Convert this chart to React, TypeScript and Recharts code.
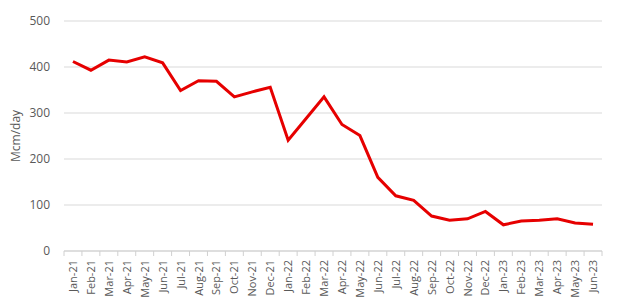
import React from 'react';
import { LineChart, Line, XAxis, YAxis, CartesianGrid } from 'recharts';

const months = ['Jan-21','Feb-21','Mar-21','Apr-21','May-21','Jun-21','Jul-21','Aug-21','Sep-21','Oct-21','Nov-21','Dec-21','Jan-22','Feb-22','Mar-22','Apr-22','May-22','Jun-22','Jul-22','Aug-22','Sep-22','Oct-22','Nov-22','Dec-22','Jan-23','Feb-23','Mar-23','Apr-23','May-23','Jun-23'];
const flows = [412,393,415,411,422,409,349,370,369,335,346,356,241,288,335,275,251,160,120,110,76,67,70,86,57,65,67,70,61,58];
const yTicks = [0,100,200,300,400,500];

const data = months.map((m, i) => ({ month: m, value: flows[i] }));

const FONT = "'Open Sans', 'Liberation Sans', sans-serif";

const XTick = (props: any) => {
  const { x, y, payload, index } = props;
  const off = payload.offset || 0;
  const isLast = index === months.length - 1;
  return (
    <g>
      <line x1={x - off} x2={x - off} y1={y - 8} y2={y - 3} stroke="#d0d0d0" />
      {isLast && <line x1={x + off} x2={x + off} y1={y - 8} y2={y - 3} stroke="#d0d0d0" />}
      <text x={x} y={y} transform={`rotate(-90 ${x} ${y})`} dx={-1} dy={4} textAnchor="end" fill="#595959" fontSize={11} fontFamily={FONT}>
        {payload.value}
      </text>
    </g>
  );
};

export default function App() {
  return (
    <div style={{ position: 'absolute', left: 0, top: 0, width: 624, height: 307, background: '#fff' }}>
      <LineChart width={624} height={307} data={data} margin={{ top: 21, right: 22, bottom: 0, left: 20 }}>
        <CartesianGrid vertical={false} stroke="#d9d9d9" strokeWidth={1} />
        <XAxis dataKey="month" scale="band" interval={0} tickLine={false} axisLine={{ stroke: '#d0d0d0' }} height={56} tick={<XTick />} />
        <YAxis domain={[0, 500]} ticks={yTicks} width={44} axisLine={false} tickLine={false}
          tick={{ fill: '#595959', fontSize: 12, fontFamily: FONT }} tickMargin={8}
          label={{ value: 'Mcm/day', angle: -90, position: 'insideLeft', offset: -4, dy: 26, style: { fill: '#595959', fontSize: 12, fontFamily: FONT } }} />
        <Line type="linear" dataKey="value" stroke="#e60000" strokeWidth={3} dot={false} isAnimationActive={false} />
      </LineChart>
    </div>
  );
}
